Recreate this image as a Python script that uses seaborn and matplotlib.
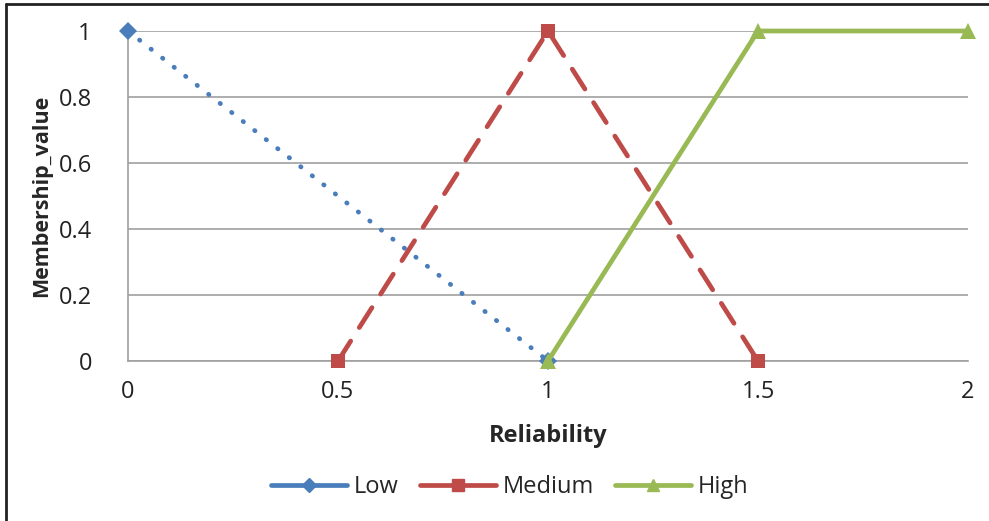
import matplotlib
matplotlib.use("Agg")
import matplotlib.pyplot as plt
import seaborn as sns
import pandas as pd
from matplotlib.lines import Line2D

# membership functions
low_x = [0, 1]
low_y = [1, 0]
medium_x = [0.5, 1, 1.5]
medium_y = [0, 1, 0]
high_x = [1, 1.5, 2]
high_y = [0, 1, 1]

x_ticks = [0, 0.5, 1, 1.5, 2]
x_tick_labels = ["0", "0.5", "1", "1.5", "2"]
y_ticks = [0, 0.2, 0.4, 0.6, 0.8, 1]
y_tick_labels = ["0", "0.2", "0.4", "0.6", "0.8", "1"]

colors = {"Low": "#4A7EBB", "Medium": "#BE4B48", "High": "#98B954"}

sns.set_style("white")
plt.rcParams["font.family"] = ["Open Sans", "DejaVu Sans"]

fig = plt.figure(figsize=(9.89, 5.21), dpi=100)
ax = fig.add_axes([128 / 989, 1 - 361 / 521, 840 / 989, 330 / 521])

lw = 3.4
df_low = pd.DataFrame({"x": low_x, "y": low_y})
df_med = pd.DataFrame({"x": medium_x, "y": medium_y})
df_high = pd.DataFrame({"x": high_x, "y": high_y})

sns.lineplot(data=df_low, x="x", y="y", ax=ax, color=colors["Low"], lw=lw,
             linestyle=(0, (0.1, 3.0)), dash_capstyle="round",
             marker="D", markersize=9, markeredgewidth=0, clip_on=False, zorder=3)
sns.lineplot(data=df_med, x="x", y="y", ax=ax, color=colors["Medium"], lw=lw,
             linestyle=(0, (5.0, 3.4)), dash_capstyle="round",
             marker="s", markersize=10, markeredgewidth=0, clip_on=False, zorder=4)
sns.lineplot(data=df_high, x="x", y="y", ax=ax, color=colors["High"], lw=lw,
             linestyle="-", marker="^", markersize=11, markeredgewidth=0,
             clip_on=False, zorder=5)

ax.set_xlim(0, 2)
ax.set_ylim(0, 1)
ax.set_xticks(x_ticks)
ax.set_xticklabels(x_tick_labels)
ax.set_yticks(y_ticks)
ax.set_yticklabels(y_tick_labels)
ax.tick_params(axis="both", labelsize=17, length=0, colors="#222222")
ax.tick_params(axis="x", pad=14)
ax.tick_params(axis="y", pad=26)

ax.grid(axis="y", color="#A0A0A0", lw=1.2)
ax.grid(axis="x", visible=False)
ax.set_axisbelow(True)
for side in ["top", "right"]:
    ax.spines[side].set_visible(False)
for side in ["left", "bottom"]:
    ax.spines[side].set_color("#A0A0A0")
    ax.spines[side].set_linewidth(1.2)

ax.set_xlabel("Reliability", fontsize=17, fontweight="bold", labelpad=14)
ax.set_ylabel("Membership_value", fontsize=15.5, fontweight="bold", labelpad=5)

handles = [
    Line2D([], [], color=colors["Low"], lw=lw, marker="D", markersize=7, solid_capstyle="round"),
    Line2D([], [], color=colors["Medium"], lw=lw, marker="s", markersize=9, solid_capstyle="round"),
    Line2D([], [], color=colors["High"], lw=lw, marker="^", markersize=8, solid_capstyle="round"),
]
fig.legend(handles, ["Low", "Medium", "High"], loc="center", bbox_to_anchor=(510 / 989, 1 - 487 / 521),
           ncol=3, frameon=False, fontsize=17, handlelength=3.2, handletextpad=0.3,
           columnspacing=0.9)

# outer frame (left and top edges visible)
fig.add_artist(Line2D([5.5 / 989, 5.5 / 989], [0, 1 - 4 / 521], color="#222222", lw=2, transform=fig.transFigure))
fig.add_artist(Line2D([5.5 / 989, 1], [1 - 4 / 521, 1 - 4 / 521], color="#222222", lw=2, transform=fig.transFigure))

fig.savefig("out.png", dpi=100)
